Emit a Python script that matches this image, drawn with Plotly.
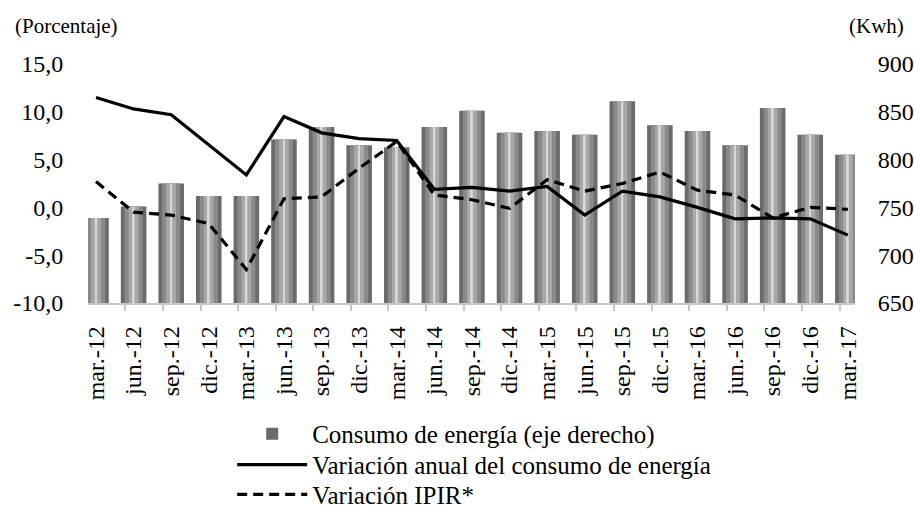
import plotly.graph_objects as go

categories = ["mar.-12", "jun.-12", "sep.-12", "dic.-12", "mar.-13", "jun.-13", "sep.-13",
              "dic.-13", "mar.-14", "jun.-14", "sep.-14", "dic.-14", "mar.-15", "jun.-15",
              "sep.-15", "dic.-15", "mar.-16", "jun.-16", "sep.-16", "dic.-16", "mar.-17"]

consumo_kwh = [739, 751, 775, 762, 762, 821, 834, 815, 813, 834, 851, 828, 830, 826,
               861, 836, 830, 815, 854, 826, 805]

var_consumo = [11.5, 10.3, 9.7, 6.5, 3.4, 9.5, 7.8, 7.2, 7.0, 1.9, 2.1, 1.7, 2.2, -0.8,
               1.7, 1.1, 0.0, -1.2, -1.1, -1.2, -2.9]

var_ipir = [2.7, -0.5, -0.8, -1.7, -6.5, 0.9, 1.1, 4.1, 6.9, 1.3, 0.8, -0.1, 2.9, 1.7,
            2.5, 3.7, 1.8, 1.3, -1.1, 0.0, -0.2]

left_tickvals = [-10, -5, 0, 5, 10, 15]
left_ticktext = ["-10,0", "-5,0", "0,0", "5,0", "10,0", "15,0"]
right_tickvals = [650, 700, 750, 800, 850, 900]
right_ticktext = ["650", "700", "750", "800", "850", "900"]

FONT = "Liberation Serif"
xpos = list(range(len(categories)))

fig = go.Figure()

# cylinder-like shading: layered bars from the same data
fig.add_trace(go.Bar(x=xpos, y=consumo_kwh, width=0.68, name="Consumo de energía (eje derecho)",
                     marker=dict(color="#6b6b6b", line=dict(width=0)), yaxis="y",
                     legend="legend"))
fig.add_trace(go.Bar(x=xpos, y=consumo_kwh, width=0.48, showlegend=False, hoverinfo="skip",
                     marker=dict(color="#8a8a8a", line=dict(width=0)), yaxis="y"))
fig.add_trace(go.Bar(x=xpos, y=consumo_kwh, width=0.26, showlegend=False, hoverinfo="skip",
                     marker=dict(color="#a8a8a8", line=dict(width=0)), yaxis="y"))
fig.add_trace(go.Bar(x=xpos, y=consumo_kwh, width=0.05, showlegend=False, hoverinfo="skip",
                     marker=dict(color="#d8d8d8", line=dict(width=0)), yaxis="y"))

fig.add_trace(go.Scatter(x=xpos, y=var_consumo, mode="lines",
                         name="Variación anual del consumo de energía",
                         line=dict(color="black", width=3.2), yaxis="y2", legend="legend2"))
fig.add_trace(go.Scatter(x=xpos, y=var_ipir, mode="lines", name="Variación IPIR*",
                         line=dict(color="black", width=3.2, dash="10px,6px"), yaxis="y2",
                         legend="legend3"))

leg_common = dict(orientation="v", x=0.188, xanchor="left", yanchor="middle",
                  font=dict(family=FONT, size=25, color="black"),
                  itemwidth=70, bgcolor="rgba(0,0,0,0)", borderwidth=0)

fig.update_layout(
    width=914, height=508,
    margin=dict(l=88, r=59, t=64, b=205, autoexpand=False),
    paper_bgcolor="white", plot_bgcolor="white",
    barmode="overlay",
    font=dict(family=FONT, color="black", size=24),
    xaxis=dict(
        range=[-0.213, 20.19],
        tickmode="array", tickvals=xpos, ticktext=categories,
        tickangle=-90, tickfont=dict(family=FONT, size=24, color="black"),
        ticks="outside", ticklen=12, tickcolor="rgba(0,0,0,0)",
        showline=True, linecolor="#c8c8c8", linewidth=1.5,
        showgrid=False, zeroline=False, automargin=False,
        minor=dict(tickmode="array", tickvals=[p - 0.22 for p in xpos],
                   ticks="outside", ticklen=6, tickcolor="#c8c8c8", tickwidth=1.5,
                   showgrid=False),
    ),
    yaxis=dict(
        range=[650, 900], side="right", automargin=False,
        tickmode="array", tickvals=right_tickvals, ticktext=right_ticktext,
        tickfont=dict(family=FONT, size=24, color="black"),
        ticks="outside", ticklen=17, tickcolor="rgba(0,0,0,0)",
        showgrid=False, zeroline=False, showline=False,
    ),
    yaxis2=dict(
        range=[-10, 15], side="left", overlaying="y", automargin=False,
        tickmode="array", tickvals=left_tickvals, ticktext=left_ticktext,
        tickfont=dict(family=FONT, size=24, color="black"),
        ticks="outside", ticklen=19, tickcolor="rgba(0,0,0,0)",
        showgrid=False, zeroline=False, showline=False,
    ),
    legend=dict(y=-0.548, **leg_common),
    legend2=dict(y=-0.677, **leg_common),
    legend3=dict(y=-0.802, **leg_common),
    annotations=[
        dict(text="(Porcentaje)", xref="paper", yref="paper", x=-0.098, y=1.16,
             xanchor="left", yanchor="middle", showarrow=False,
             font=dict(family=FONT, size=21, color="black")),
        dict(text="(Kwh)", xref="paper", yref="paper", x=1.067, y=1.16,
             xanchor="right", yanchor="middle", showarrow=False,
             font=dict(family=FONT, size=21, color="black")),
    ],
    showlegend=True,
)

fig.write_html("out.html", config={"displayModeBar": False},
               post_script="document.body.style.margin='0px';document.body.style.overflow='hidden';")
